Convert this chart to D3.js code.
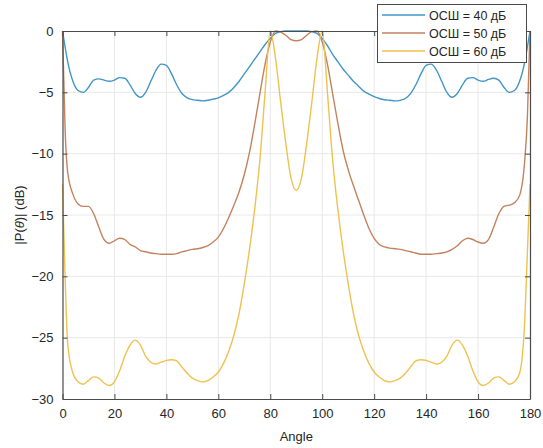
<!DOCTYPE html>
<html>
<head>
<meta charset="utf-8">
<script src="https://cdn.jsdelivr.net/npm/d3@7"></script>
<style>
  body { margin: 0; background: #fff; }
  svg { display: block; font-family: "Liberation Sans", Arial, sans-serif; }
</style>
</head>
<body>
<svg id="chart" width="543" height="448"></svg>
<script>
const angles = [0, 1, 2, 4, 6, 8, 10, 12, 14, 16, 18, 20, 22, 24, 26, 28, 30, 32, 34, 36, 38,
  40, 42, 44, 46, 48, 50, 52, 54, 56, 58, 60, 62, 64, 66, 68, 70, 72, 74, 76, 78,
  80, 82, 84, 86, 88, 90, 92, 94, 96, 98, 100, 102, 104, 106, 108, 110, 112, 114, 116, 118,
  120, 122, 124, 126, 128, 130, 132, 134, 136, 138, 140, 142, 144, 146, 148, 150, 152, 154, 156, 158,
  160, 162, 164, 166, 168, 170, 172, 174, 176, 178, 179, 180];

// SNR = 40 dB
const snr40 = [0, -1.3, -2.5, -4.1, -4.85, -5.0, -4.6, -4.0, -3.9, -4.0, -4.1, -4.0, -3.8, -3.85, -4.4, -5.1, -5.4, -5.0, -4.1, -3.2, -2.7,
  -2.8, -3.5, -4.4, -5.1, -5.45, -5.6, -5.65, -5.7, -5.65, -5.55, -5.45, -5.25, -5.0, -4.6, -4.1, -3.5, -2.9, -2.3, -1.7, -1.1,
  -0.6, -0.2, -0.05, 0, 0, 0, 0, 0, -0.05, -0.2, -0.6, -1.2, -1.9, -2.5, -3.1, -3.6, -4.1, -4.5, -4.9, -5.15,
  -5.35, -5.5, -5.6, -5.65, -5.7, -5.65, -5.5, -5.1, -4.4, -3.5, -2.8, -2.7, -3.2, -4.1, -5.0, -5.4, -5.1, -4.4, -3.85, -3.8,
  -4.0, -4.1, -3.95, -3.85, -4.0, -4.6, -5.0, -4.85, -4.1, -2.5, -1.3, 0];

// SNR = 50 dB
const snr50 = [0, -8.0, -11.5, -13.3, -14.1, -14.3, -14.3, -14.9, -16.0, -17.0, -17.3, -17.1, -16.9, -17.0, -17.4, -17.6, -17.9, -18.0, -18.1, -18.15, -18.2,
  -18.2, -18.2, -18.15, -18.0, -17.9, -17.8, -17.75, -17.65, -17.5, -17.2, -16.8, -16.1, -15.2, -14.2, -13.1, -11.7, -9.9, -7.6, -5.1, -2.7,
  -0.9, 0, -0.1, -0.35, -0.7, -0.8, -0.7, -0.35, -0.05, 0, -0.9, -2.7, -5.1, -7.5, -9.7, -11.3, -12.6, -13.8, -15.0, -16.1,
  -16.9, -17.4, -17.6, -17.7, -17.75, -17.8, -17.9, -18.0, -18.1, -18.2, -18.2, -18.2, -18.15, -18.1, -18.0, -17.8, -17.5, -17.1, -16.9, -17.0,
  -17.2, -17.3, -17.0, -16.0, -14.9, -14.3, -14.2, -14.0, -13.4, -10.5, -7.0, 0];

// SNR = 60 dB
const snr60 = [-12.5, -20.0, -25.5, -27.9, -28.6, -28.8, -28.5, -28.2, -28.3, -28.7, -28.9, -28.6, -27.7, -26.5, -25.6, -25.2, -25.6, -26.5, -27.0, -27.15, -27.0,
  -26.85, -26.8, -26.9, -27.4, -27.9, -28.3, -28.5, -28.6, -28.5, -28.2, -27.8, -27.1, -26.1, -24.8, -23.0, -20.6, -17.8, -14.5, -10.5, -5.0,
  0, -2.2, -5.8, -9.2, -12.0, -13.0, -12.0, -9.2, -5.8, -2.2, 0, -5.0, -10.5, -14.5, -17.8, -20.6, -23.0, -24.8, -26.1, -27.1,
  -27.8, -28.2, -28.5, -28.6, -28.5, -28.3, -27.9, -27.4, -26.9, -26.8, -26.85, -27.0, -27.15, -27.0, -26.5, -25.6, -25.2, -25.6, -26.5, -27.7,
  -28.6, -28.9, -28.7, -28.3, -28.2, -28.5, -28.8, -28.6, -27.9, -23.5, -18.0, -12.5];

const seriesNames = ["ОСШ = 40 дБ", "ОСШ = 50 дБ", "ОСШ = 60 дБ"];
const seriesValues = [snr40, snr50, snr60];
const colors = ["#4196c6", "#c3835f", "#efc24f"];

const xTicks = [0, 20, 40, 60, 80, 100, 120, 140, 160, 180];
const yTicks = [0, -5, -10, -15, -20, -25, -30];

// layout of the plot box
const plotLeft = 62.5, plotRight = 530, plotTop = 31, plotBottom = 399;
const axisColor = "#4a4a4a", textColor = "#262626";

const svg = d3.select("#chart");

const x = d3.scaleLinear().domain([0, 180]).range([plotLeft, plotRight]);
const y = d3.scaleLinear().domain([-30, 0]).range([plotBottom, plotTop]);

// grid
svg.append("g")
  .selectAll("line")
  .data(xTicks.slice(1, -1))
  .enter().append("line")
  .attr("x1", d => x(d)).attr("x2", d => x(d))
  .attr("y1", plotTop).attr("y2", plotBottom)
  .attr("stroke", "#e8e8e8").attr("stroke-width", 1);

svg.append("g")
  .selectAll("line")
  .data(yTicks.slice(1, -1))
  .enter().append("line")
  .attr("x1", plotLeft).attr("x2", plotRight)
  .attr("y1", d => y(d)).attr("y2", d => y(d))
  .attr("stroke", "#e8e8e8").attr("stroke-width", 1);

// curves
const line = d3.line()
  .x((d, i) => x(angles[i]))
  .y(d => y(d))
  .curve(d3.curveMonotoneX);

seriesValues.forEach(function(vals, k) {
  svg.append("path")
    .datum(vals)
    .attr("d", line)
    .attr("fill", "none")
    .attr("stroke", colors[k])
    .attr("stroke-width", 1.4);
});

// axes (inward ticks, box)
const xAxis = d3.axisBottom(x).tickValues(xTicks).tickSizeInner(-5).tickSizeOuter(0).tickPadding(10);
const yAxis = d3.axisLeft(y).tickValues(yTicks).tickSizeInner(-5).tickSizeOuter(0).tickPadding(9);

const gx = svg.append("g").attr("transform", "translate(0," + plotBottom + ")").call(xAxis);
const gy = svg.append("g").attr("transform", "translate(" + plotLeft + ",0)").call(yAxis);
const gxTop = svg.append("g").attr("transform", "translate(0," + plotTop + ")")
  .call(d3.axisTop(x).tickValues(xTicks).tickSizeInner(-5).tickSizeOuter(0).tickFormat(""));
const gyRight = svg.append("g").attr("transform", "translate(" + plotRight + ",0)")
  .call(d3.axisRight(y).tickValues(yTicks).tickSizeInner(-5).tickSizeOuter(0).tickFormat(""));

[gx, gy, gxTop, gyRight].forEach(function(g) {
  g.select(".domain").attr("stroke", axisColor).attr("stroke-width", 1.2);
  g.selectAll(".tick line").attr("stroke", axisColor);
  g.selectAll(".tick text")
    .attr("fill", textColor)
    .style("font-size", "13px")
    .style("font-family", "'Liberation Sans', Arial, sans-serif");
});

// axis labels
svg.append("text")
  .attr("x", (plotLeft + plotRight) / 2).attr("y", 441)
  .attr("text-anchor", "middle")
  .attr("fill", textColor)
  .style("font-size", "13px")
  .text("Angle");

const yl = svg.append("text")
  .attr("transform", "translate(24," + ((plotTop + plotBottom) / 2) + ") rotate(-90)")
  .attr("text-anchor", "middle")
  .attr("fill", textColor)
  .style("font-size", "13px");
yl.append("tspan").text("|P(");
yl.append("tspan").style("font-style", "italic").text("θ");
yl.append("tspan").text(")| (dB)");

// legend
const legend = svg.append("g");
legend.append("rect")
  .attr("x", 377.5).attr("y", 4.5)
  .attr("width", 149).attr("height", 58)
  .attr("fill", "#fff")
  .attr("stroke", axisColor).attr("stroke-width", 1);

const rowY = [15, 33, 51];
seriesNames.forEach(function(name, k) {
  legend.append("line")
    .attr("x1", 382).attr("x2", 425)
    .attr("y1", rowY[k]).attr("y2", rowY[k])
    .attr("stroke", colors[k]).attr("stroke-width", 1.4);
  legend.append("text")
    .attr("x", 429).attr("y", rowY[k] + 4.5)
    .attr("fill", textColor)
    .style("font-size", "12.5px")
    .text(name);
});
</script>
</body>
</html>
